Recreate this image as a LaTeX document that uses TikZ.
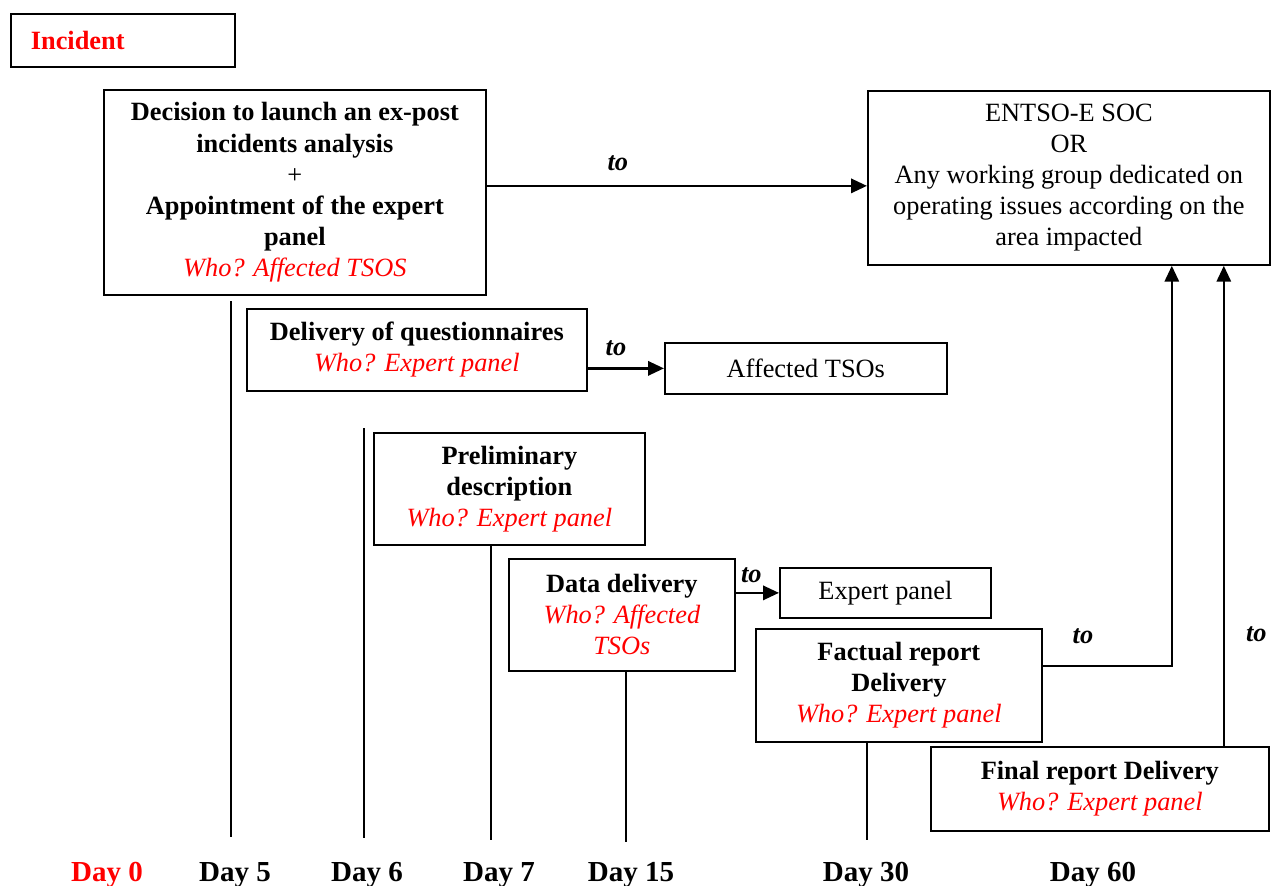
\documentclass[tikz,border=0pt]{standalone}
\usepackage{fontspec}
\setmainfont{Liberation Serif}
\usepackage{tikz}
\usetikzlibrary{
	arrows.meta,									% 提供各种箭头样式
	calc,											% 坐标计算
}

\newcommand{\who}[1]{\textcolor{red}{\itshape #1}}

\begin{document}
\begin{tikzpicture}[x=0.02cm, y=-0.02cm,
		every node/.style={font=\fontsize{15}{17.7}\selectfont},
		box/.style={draw, line width=1pt, inner sep=0pt, align=center, anchor=north west},
		arr/.style={line width=1.5pt, -{Triangle[length=9pt, width=8pt]}},
		tick/.style={line width=0.8pt},
		tolbl/.style={font=\fontsize{15}{17.7}\selectfont\bfseries\itshape},
		day/.style={font=\fontsize{16.5}{19}\selectfont\bfseries},
	]
		\useasboundingbox (0,0) rectangle (1272,886);
		% 方框
		\node[box, minimum width=4.48cm, minimum height=1.06cm, text width=3.68cm, inner xsep=0.4cm, align=left] (incident) at (10,13) {\textcolor{red}{\bfseries Incident}};
		\node[box, minimum width=7.64cm, minimum height=4.10cm] (decision) at (103,89) {\bfseries Decision to launch an ex-post\\\bfseries incidents analysis\\+\\\bfseries Appointment of the expert\\\bfseries panel\\\who{Who? Affected TSOS}};
		\node[box, minimum width=8.04cm, minimum height=3.48cm] (entso) at (867,90) {ENTSO-E SOC\\OR\\Any working group dedicated on\\operating issues according on the\\area impacted};
		\node[box, minimum width=6.8cm, minimum height=1.64cm] (quest) at (246,308) {\bfseries Delivery of questionnaires\\\who{Who? Expert panel}};
		\node[box, minimum width=5.64cm, minimum height=1.02cm] (affected) at (664,342) {Affected TSOs};
		\node[box, minimum width=5.42cm, minimum height=2.24cm] (prelim) at (373,432) {\bfseries Preliminary\\\bfseries description\\\who{Who? Expert panel}};
		\node[box, minimum width=4.52cm, minimum height=2.24cm] (data) at (508,558) {\bfseries Data delivery\\\who{Who? Affected}\\\who{TSOs}};
		\node[box, minimum width=4.22cm, minimum height=1.0cm] (expert) at (779,567) {Expert panel};
		\node[box, minimum width=5.72cm, minimum height=2.26cm] (factual) at (755,628) {\bfseries Factual report\\\bfseries Delivery\\\who{Who? Expert panel}};
		\node[box, minimum width=6.76cm, minimum height=1.68cm] (final) at (930,746) {\bfseries Final report Delivery\\\who{Who? Expert panel}};
		% 箭头
		\draw[arr] ([yshift=0.13cm]decision.east) -- ([yshift=0.13cm]decision.east -| entso.west)
			node[tolbl, pos=0.345, above=0.15cm] {to};
		\draw[arr] (quest.east |- affected.west) -- (affected.west)
			node[tolbl, pos=0.37, above=0.1cm] {to};
		\draw[arr] (data.east |- expert.west) -- (expert.west)
			node[tolbl, pos=0.36, above=0.05cm] {to};
		\draw[arr] ([yshift=0.39cm]factual.east) -| ([xshift=2.06cm]entso.south)
			node[tolbl, pos=0.156, above=0.3cm] {to};
		\draw[arr] ([xshift=2.48cm]final.north) -- ([xshift=2.48cm]final.north |- entso.south)
			node[tolbl, pos=0.232, right=0.3cm] {to};
		% 时间轴
		\foreach \x/\a/\b in {231/301/837, 364/428/838, 491/544/840, 626/670/842, 867/741/840}
			\draw[tick] (\x,\a) -- (\x,\b);
		\node[day, text=red] (d0) at (107,875) {Day 0};
		\foreach \x/\t in {235/5, 367/6, 499/7, 631/15, 866/30, 1093/60}
			\node[day] (d\t) at (\x,875) {Day \t};
	\end{tikzpicture}
\end{document}
